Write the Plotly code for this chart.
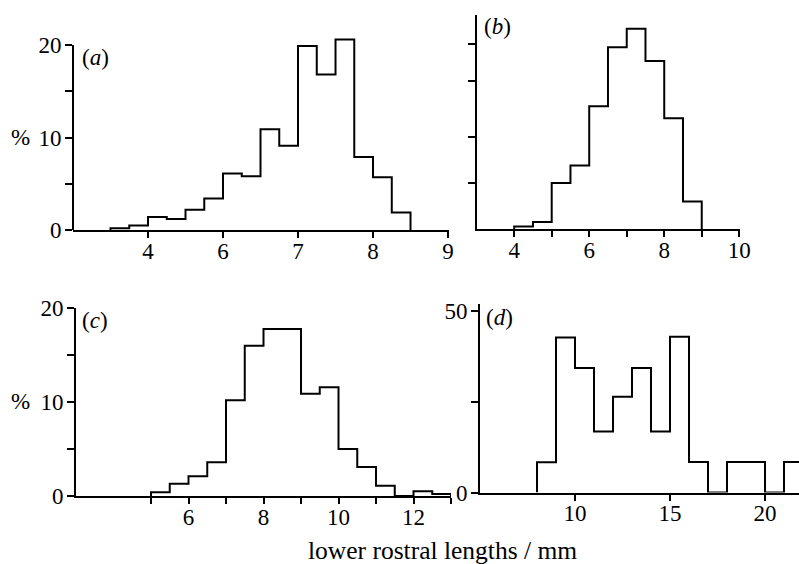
import plotly.graph_objects as go

W, H = 799, 564
FONT = "Liberation Serif"

# ---------------- data ----------------
# (a) bins of 0.25 mm
a_edges = [4.5 + 0.25 * i for i in range(17)]
a_values = [0.2, 0.5, 1.4, 1.2, 2.2, 3.4, 6.1, 5.8, 10.9, 9.1, 19.9, 16.8, 20.6, 7.9, 5.7, 1.9]
a_tickvals = [5, 6, 7, 8, 9]
a_ticktext = ["4", "6", "7", "8", "9"]
a_ytickvals = [0, 5, 10, 15, 20]
a_yticktext = ["0", "", "10", "", "20"]

# (b) bins of 0.5 mm
b_edges = [4 + 0.5 * i for i in range(11)]
b_values = [0.3, 0.8, 5.0, 6.9, 13.3, 19.7, 21.7, 18.2, 12.0, 3.0]
b_tickvals = [4, 5, 6, 7, 8, 9, 10]
b_ticktext = ["4", "", "6", "", "8", "", "10"]
b_ytickvals = [5, 10, 16, 20]
b_yticktext = ["", "", "", ""]

# (c) bins of 0.5 mm
c_edges = [5 + 0.5 * i for i in range(17)]
c_values = [0.4, 1.3, 2.1, 3.6, 10.2, 16.0, 17.8, 17.8, 10.9, 11.6, 5.0, 3.1, 1.1, 0.0, 0.5, 0.2]
c_tickvals = [5, 6, 7, 8, 9, 10, 11, 12, 13]
c_ticktext = ["", "6", "", "8", "", "10", "", "12", ""]
c_ytickvals = [0, 5, 10, 15, 20]
c_yticktext = ["0", "", "10", "", "20"]

# (d) bins of 1 mm
d_edges = [8 + i for i in range(15)]
d_values = [8.3, 42.7, 34.3, 16.8, 26.4, 34.3, 16.8, 42.9, 8.4, 0.0, 8.4, 8.4, 0.0, 8.4]
d_tickvals = [10, 15, 20]
d_ticktext = ["10", "15", "20"]
d_ytickvals = [0, 25, 50]
d_yticktext = ["0", "", "50"]

x_title = "lower rostral lengths / mm"


def step(edges, values):
    xs = [edges[0]] + list(edges[:-1]) + [edges[-1]]
    ys = [0] + list(values) + [0]
    return xs, ys


def fx(px):
    return px / W


def fy(py):
    return 1 - py / H


fig = go.Figure()

# name, edges, values, x px domain, y px (bottom, top), xrange, yrange, ticks
panels = [
    ("", a_edges, a_values, (73, 449), (230, 35.75), [4, 9.013], [0, 21],
     a_tickvals, a_ticktext, a_ytickvals, a_yticktext),
    ("2", b_edges, b_values, (476.7, 740), (229.3, 15), [3, 10.02], [0, 23.18],
     b_tickvals, b_ticktext, b_ytickvals, b_yticktext),
    ("3", c_edges, c_values, (76, 451), (496, 308.3), [3, 13], [0, 20],
     c_tickvals, c_ticktext, c_ytickvals, c_yticktext),
    ("4", d_edges, d_values, (480, 799), (492.5, 303.7), [5, 21.79], [0, 52],
     d_tickvals, d_ticktext, d_ytickvals, d_yticktext),
]

TICKFONT = dict(family=FONT, size=23, color="black")
axis_common = dict(
    showline=True, linecolor="black", linewidth=2, ticks="outside",
    tickcolor="black", tickwidth=1.6, showgrid=False, zeroline=False,
    tickfont=TICKFONT, fixedrange=True, automargin=False,
)

for name, edges, values, xd, yd, xr, yr, xtv, xtt, ytv, ytt in panels:
    xs, ys = step(edges, values)
    fig.add_trace(go.Scatter(
        x=xs, y=ys, mode="lines", line=dict(shape="hv", color="black", width=2),
        xaxis="x" + name, yaxis="y" + name, showlegend=False, hoverinfo="skip"))
    fig.layout["xaxis" + name] = dict(
        axis_common, domain=[fx(xd[0]), fx(xd[1])], range=xr,
        anchor="y" + name, ticklen=6, ticklabelstandoff=-7,
        tickmode="array", tickvals=xtv, ticktext=xtt)
    fig.layout["yaxis" + name] = dict(
        axis_common, domain=[fy(yd[0]), fy(yd[1])], range=yr,
        anchor="x" + name, ticklen=7, ticklabelstandoff=-1,
        tickmode="array", tickvals=ytv, ticktext=ytt)

# panel (a): the vertical axis line stops at its top tick (the tallest bar rises above it)
fig.layout.yaxis.showline = False
fig.add_shape(type="line", xref="x domain", yref="y", x0=0, x1=0,
              y0=a_ytickvals[0], y1=a_ytickvals[-1], line=dict(color="black", width=2))

ann_font = dict(family=FONT, size=23, color="black")
annotations = [
    dict(text="(<i>a</i>)", x=fx(80), y=fy(58)),
    dict(text="(<i>b</i>)", x=fx(482), y=fy(27)),
    dict(text="(<i>c</i>)", x=fx(80), y=fy(320)),
    dict(text="(<i>d</i>)", x=fx(484), y=fy(317)),
]
for a in annotations:
    fig.add_annotation(xref="paper", yref="paper", xanchor="left", yanchor="middle",
                       showarrow=False, font=ann_font, **a)
for py in (138, 401):
    fig.add_annotation(text="%", x=fx(9), y=fy(py), xref="paper", yref="paper",
                       xanchor="left", yanchor="middle", showarrow=False, font=ann_font)
fig.add_annotation(text=x_title, x=fx(442), y=fy(550), xref="paper", yref="paper",
                   xanchor="center", yanchor="middle", showarrow=False,
                   font=dict(family=FONT, size=25.5, color="black"))

fig.update_layout(
    template="none",
    width=W, height=H, margin=dict(l=0, r=0, t=0, b=0, pad=0),
    paper_bgcolor="white", plot_bgcolor="rgba(0,0,0,0)",
    font=dict(family=FONT, color="black"),
)

fig.write_html("out.html", config={"displayModeBar": False},
               post_script="document.body.style.margin='0';")
